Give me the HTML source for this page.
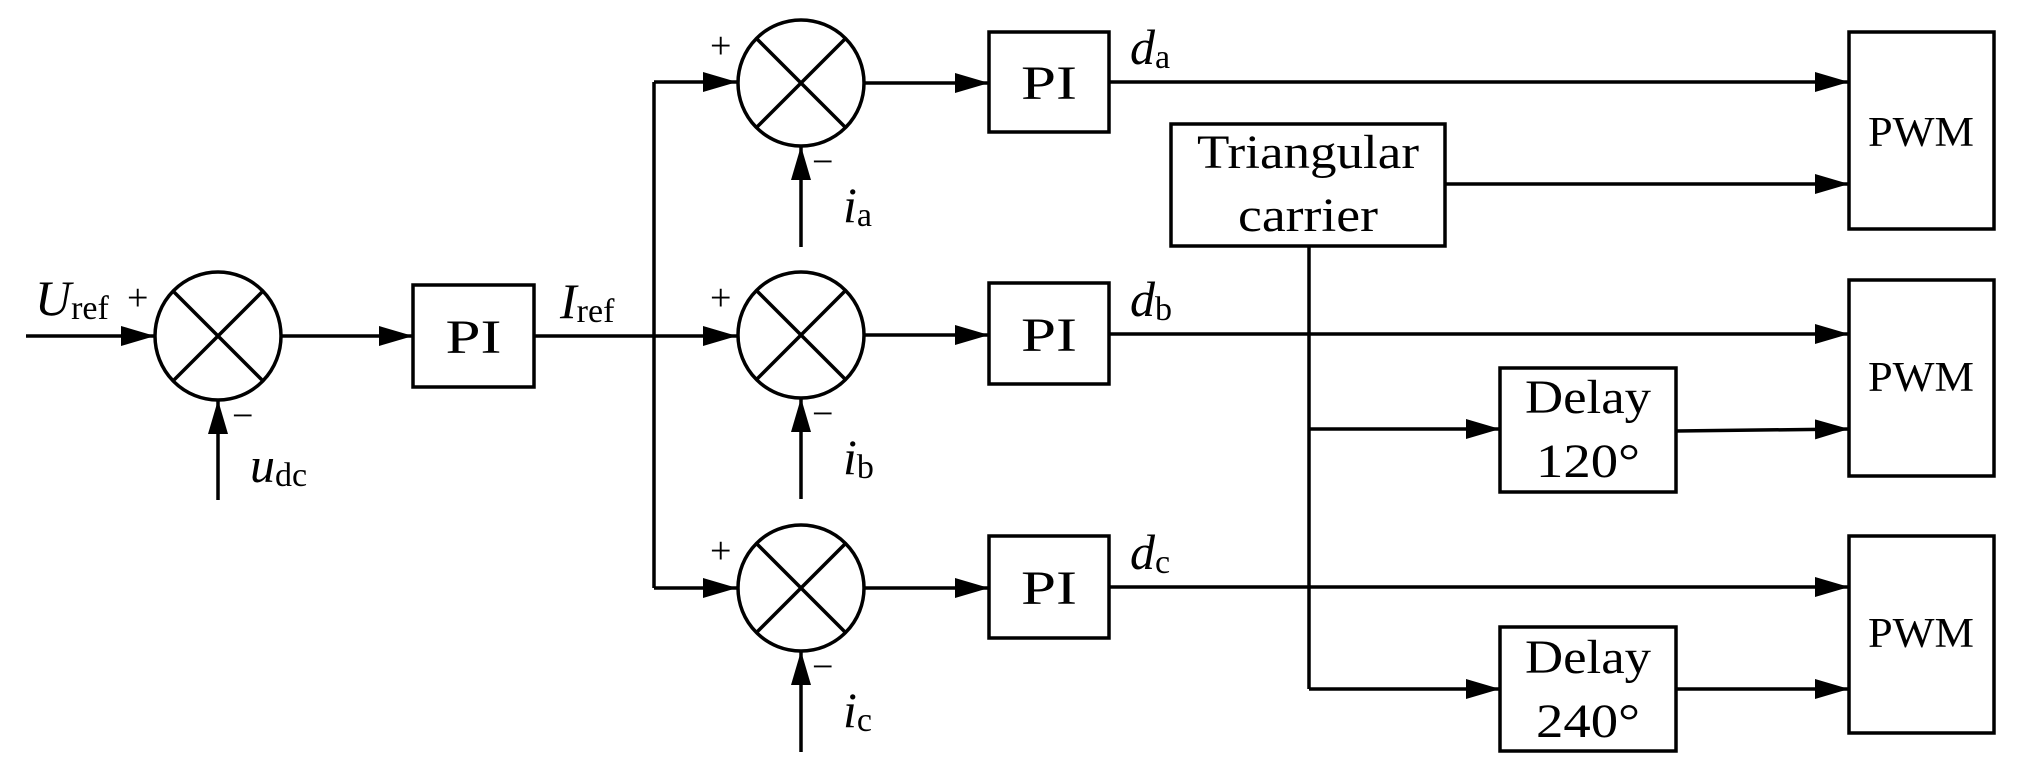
<!DOCTYPE html>
<html><head><meta charset="utf-8"><style>
html,body{margin:0;padding:0;background:#fff;}
svg{display:block;}
text{font-family:"Liberation Serif",serif;fill:#000;}
.t{font-size:48px;text-anchor:middle;}
.i{font-style:italic;font-size:50px;}
.s{font-size:34px;font-style:normal;}
.pm{font-size:38px;}
</style></head><body>
<svg width="2037" height="777" viewBox="0 0 2037 777" xmlns="http://www.w3.org/2000/svg">
<defs>
<marker id="a" markerWidth="34" markerHeight="20" refX="34" refY="10" orient="auto" markerUnits="userSpaceOnUse">
<path d="M0,0 L34,10 L0,20 Z" fill="#000"/></marker>
</defs>
<g stroke="#000" stroke-width="3.5" fill="none">
<line x1="26" y1="336" x2="155" y2="336" marker-end="url(#a)"/>
<ellipse cx="218" cy="336" rx="63" ry="64"/>
<line x1="173" y1="291" x2="263" y2="381"/><line x1="263" y1="291" x2="173" y2="381"/>
<line x1="218" y1="500" x2="218" y2="400" marker-end="url(#a)"/>
<line x1="281" y1="336" x2="413" y2="336" marker-end="url(#a)"/>
<rect x="413" y="285" width="121" height="102"/>
<line x1="534" y1="336" x2="737" y2="336" marker-end="url(#a)"/>
<polyline points="654,82 654,588"/>
<line x1="654" y1="82" x2="737" y2="82" marker-end="url(#a)"/>
<line x1="654" y1="588" x2="737" y2="588" marker-end="url(#a)"/>
<ellipse cx="801" cy="83" rx="63" ry="63"/>
<line x1="756" y1="38" x2="846" y2="128"/><line x1="846" y1="38" x2="756" y2="128"/>
<ellipse cx="801" cy="335" rx="63" ry="63"/>
<line x1="756" y1="290" x2="846" y2="380"/><line x1="846" y1="290" x2="756" y2="380"/>
<ellipse cx="801" cy="588" rx="63" ry="63"/>
<line x1="756" y1="543" x2="846" y2="633"/><line x1="846" y1="543" x2="756" y2="633"/>
<line x1="801" y1="247" x2="801" y2="146" marker-end="url(#a)"/>
<line x1="801" y1="499" x2="801" y2="398" marker-end="url(#a)"/>
<line x1="801" y1="752" x2="801" y2="651" marker-end="url(#a)"/>
<line x1="864" y1="83" x2="989" y2="83" marker-end="url(#a)"/>
<line x1="864" y1="335" x2="989" y2="335" marker-end="url(#a)"/>
<line x1="864" y1="588" x2="989" y2="588" marker-end="url(#a)"/>
<rect x="989" y="32" width="120" height="100"/>
<rect x="989" y="283" width="120" height="101"/>
<rect x="989" y="536" width="120" height="102"/>
<line x1="1109" y1="82" x2="1849" y2="82" marker-end="url(#a)"/>
<line x1="1109" y1="334" x2="1849" y2="334" marker-end="url(#a)"/>
<line x1="1109" y1="587" x2="1849" y2="587" marker-end="url(#a)"/>
<rect x="1171" y="124" width="274" height="122"/>
<line x1="1445" y1="184" x2="1849" y2="184" marker-end="url(#a)"/>
<polyline points="1309,246 1309,689"/>
<line x1="1309" y1="689" x2="1500" y2="689" marker-end="url(#a)"/>
<line x1="1309" y1="429" x2="1500" y2="429" marker-end="url(#a)"/>
<rect x="1500" y="368" width="176" height="124"/>
<rect x="1500" y="627" width="176" height="124"/>
<line x1="1676" y1="431" x2="1849" y2="429" marker-end="url(#a)"/>
<line x1="1676" y1="689" x2="1849" y2="689" marker-end="url(#a)"/>
<rect x="1849" y="32" width="145" height="197"/>
<rect x="1849" y="280" width="145" height="196"/>
<rect x="1849" y="536" width="145" height="197"/>
</g>
<text x="35" y="315" class="i">U<tspan class="s" dy="4">ref</tspan></text>
<text x="127" y="310" class="pm">+</text>
<text x="232" y="428" class="pm">−</text>
<text x="250" y="482" class="i">u<tspan class="s" dy="4">dc</tspan></text>
<text x="473.5" y="353" class="t" textLength="56" lengthAdjust="spacingAndGlyphs">PI</text>
<text x="560" y="318" class="i">I<tspan class="s" dy="4">ref</tspan></text>
<text x="710" y="58" class="pm">+</text>
<text x="710" y="310" class="pm">+</text>
<text x="710" y="563" class="pm">+</text>
<text x="812" y="174" class="pm">−</text>
<text x="812" y="426" class="pm">−</text>
<text x="812" y="679" class="pm">−</text>
<text x="843" y="222" class="i">i<tspan class="s" dy="4">a</tspan></text>
<text x="843" y="474" class="i">i<tspan class="s" dy="4">b</tspan></text>
<text x="843" y="727" class="i">i<tspan class="s" dy="4">c</tspan></text>
<text x="1049" y="99" class="t" textLength="56" lengthAdjust="spacingAndGlyphs">PI</text>
<text x="1049" y="351" class="t" textLength="56" lengthAdjust="spacingAndGlyphs">PI</text>
<text x="1049" y="604" class="t" textLength="56" lengthAdjust="spacingAndGlyphs">PI</text>
<text x="1130" y="64" class="i">d<tspan class="s" dy="4">a</tspan></text>
<text x="1130" y="316" class="i">d<tspan class="s" dy="4">b</tspan></text>
<text x="1130" y="569" class="i">d<tspan class="s" dy="4">c</tspan></text>
<text x="1308" y="168" class="t" textLength="222" lengthAdjust="spacingAndGlyphs">Triangular</text>
<text x="1308" y="231" class="t" textLength="140" lengthAdjust="spacingAndGlyphs">carrier</text>
<text x="1588" y="413" class="t" textLength="126" lengthAdjust="spacingAndGlyphs">Delay</text>
<text x="1588" y="477" class="t" textLength="104" lengthAdjust="spacingAndGlyphs">120°</text>
<text x="1588" y="673" class="t" textLength="126" lengthAdjust="spacingAndGlyphs">Delay</text>
<text x="1588" y="737" class="t" textLength="104" lengthAdjust="spacingAndGlyphs">240°</text>
<text x="1921" y="146" class="t" style="font-size:42px" textLength="106" lengthAdjust="spacingAndGlyphs">PWM</text>
<text x="1921" y="391" class="t" style="font-size:42px" textLength="106" lengthAdjust="spacingAndGlyphs">PWM</text>
<text x="1921" y="647" class="t" style="font-size:42px" textLength="106" lengthAdjust="spacingAndGlyphs">PWM</text>
</svg>
</body></html>
